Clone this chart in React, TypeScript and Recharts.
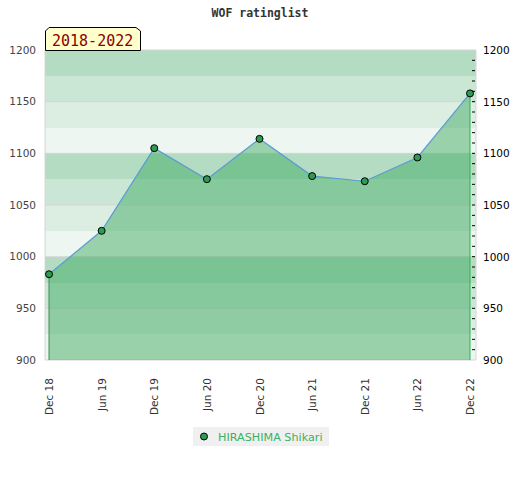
import { ComposedChart, Area, XAxis, YAxis, CartesianGrid, ReferenceLine } from "recharts";

const TITLE = "WOF ratinglist";
const PERIOD = "2018-2022";
const SERIES_NAME = "HIRASHIMA Shikari";

const DATES = ["Dec 18", "Jun 19", "Dec 19", "Jun 20", "Dec 20", "Jun 21", "Dec 21", "Jun 22", "Dec 22"];
const RATINGS = [983, 1025, 1105, 1075, 1114, 1078, 1073, 1096, 1158];

const Y_MIN = 900;
const Y_MAX = 1200;
const Y_LABELS = [900, 950, 1000, 1050, 1100, 1150, 1200];
const Y_MINOR = [900, 910, 920, 930, 940, 950, 960, 970, 980, 990, 1000, 1010, 1020, 1030, 1040, 1050, 1060, 1070, 1080, 1090, 1100, 1110, 1120, 1130, 1140, 1150, 1160, 1170, 1180, 1190, 1200];
const BAND_EDGES = [900, 925, 950, 975, 1000, 1025, 1050, 1075, 1100, 1125, 1150, 1175, 1200];
// stripes listed top-down, repeating every 100 points
const BAND_COLORS = ["#b3dcc2", "#cae6d5", "#dcede2", "#eef6f1"];

const data = DATES.map((date, i) => ({ i, date, rating: RATINGS[i] }));

const FONT = "'DejaVu Sans', sans-serif";
const MONO = "'DejaVu Sans Mono', monospace";

function XTick({ x, y, payload }: any) {
  return (
    <text x={x} y={y} dy={4} textAnchor="end" transform={`rotate(-90 ${x} ${y})`} fill="#333" fontSize={10.5} fontFamily={FONT}>
      {DATES[payload.value]}
    </text>
  );
}

function RightTick({ x, y, payload }: any) {
  const labelled = Y_LABELS.includes(payload.value);
  return (
    <g>
      {payload.value !== Y_MIN && payload.value !== Y_MAX && (
        <line x1={x - 11} x2={x - 8} y1={y} y2={y} stroke="#000" />
      )}
      {labelled && (
        <text x={x} y={y} dy={4} textAnchor="start" fill="#000" fontSize={10.5} fontFamily={FONT}>
          {payload.value}
        </text>
      )}
    </g>
  );
}

const bandRows = ({ offset }: any) =>
  BAND_EDGES.map((v) => offset.top + ((Y_MAX - v) / (Y_MAX - Y_MIN)) * offset.height);

export default function App() {
  return (
    <div style={{ position: "relative", width: 520, height: 480, background: "#fff" }}>
      <style>{"body{margin:0}"}</style>
      <div style={{ position: "absolute", top: 6, left: 0, width: 520, textAlign: "center", fontFamily: MONO, fontWeight: "bold", fontSize: 11.5, color: "#333" }}>
        {TITLE}
      </div>
      <ComposedChart width={520} height={480} data={data} margin={{ top: 50, right: 0, left: 0, bottom: 0 }}>
        <CartesianGrid
          yAxisId="l"
          vertical={false}
          stroke="none"
          horizontalFill={BAND_COLORS}
          fillOpacity={1}
          horizontalCoordinatesGenerator={bandRows}
        />
        <CartesianGrid
          yAxisId="l"
          stroke="#d6d6d6"
          verticalCoordinatesGenerator={({ offset }: any) => [offset.left, offset.left + offset.width]}
        />
        <XAxis
          dataKey="i"
          type="number"
          domain={[0, DATES.length - 1]}
          ticks={data.map((d) => d.i)}
          padding={{ left: 4, right: 6 }}
          height={120}
          axisLine={false}
          tickLine={false}
          tickMargin={12}
          tick={<XTick />}
          interval={0}
        />
        <YAxis
          yAxisId="l"
          domain={[Y_MIN, Y_MAX]}
          ticks={Y_LABELS}
          width={45}
          axisLine={false}
          tickLine={false}
          tickSize={0}
          tickMargin={9}
          tick={{ fill: "#444", fontSize: 10.5, fontFamily: FONT }}
          interval={0}
        />
        <YAxis
          yAxisId="r"
          orientation="right"
          type="number"
          domain={[Y_MIN, Y_MAX]}
          allowDataOverflow
          ticks={Y_MINOR}
          width={44}
          axisLine={false}
          tickLine={false}
          tickSize={0}
          tickMargin={7}
          tick={<RightTick />}
          interval={0}
        />
        <Area
          yAxisId="l"
          type="linear"
          dataKey="rating"
          name={SERIES_NAME}
          baseValue={Y_MIN}
          fill="#41ac64"
          fillOpacity={0.5}
          stroke="#5b9bd5"
          strokeWidth={1.2}
          dot={{ r: 3.5, fill: "#2e9a52", stroke: "#000", strokeWidth: 1, fillOpacity: 1 }}
          activeDot={false}
          isAnimationActive={false}
        />
        <ReferenceLine yAxisId="l" segment={[{ x: 0, y: Y_MIN }, { x: 0, y: RATINGS[0] }]} stroke="#3a8f55" />
        <ReferenceLine yAxisId="l" segment={[{ x: DATES.length - 1, y: Y_MIN }, { x: DATES.length - 1, y: RATINGS[RATINGS.length - 1] }]} stroke="#2db34f" />
      </ComposedChart>
      <svg width={100} height={26} style={{ position: "absolute", left: 44, top: 26 }}>
        <path d="M1.5 24.5 V5 L5 1.5 H92 L96.5 5 V24.5 Z" fill="#ffffcc" stroke="#000" />
        <text x={8} y={20} fill="#8b0000" fontSize={15} fontFamily={MONO}>{PERIOD}</text>
      </svg>
      <div style={{ position: "absolute", left: 193, top: 427, width: 136, height: 19, background: "#f0f0f0" }}>
        <svg width={136} height={19}>
          <circle cx={11} cy={9.5} r={3.5} fill="#2e9a52" stroke="#000" />
          <text x={25} y={14} fill="#3cb060" fontSize={11.2} fontFamily={FONT}>{SERIES_NAME}</text>
        </svg>
      </div>
    </div>
  );
}
